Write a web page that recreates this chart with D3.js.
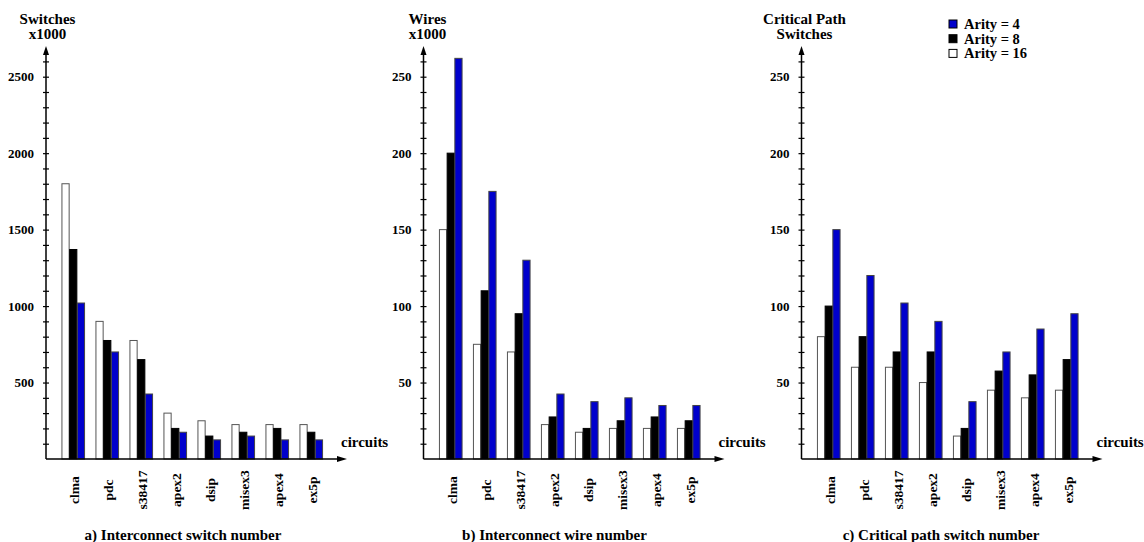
<!DOCTYPE html>
<html>
<head>
<meta charset="utf-8">
<script src="https://cdn.jsdelivr.net/npm/d3@7"></script>
<style>
  body { margin: 0; background: #fff; }
  svg text { font-family: "Liberation Serif", "Times New Roman", "DejaVu Serif", serif !important; font-weight: bold; fill: #000; }
</style>
</head>
<body>
<div id="chart"></div>
<script>
// data
const circuits = ['clma', 'pdc', 's38417', 'apex2', 'dsip', 'misex3', 'apex4', 'ex5p'];
const arities = ['16', '8', '4'];

const switches16 = [1800, 900, 775, 300, 250, 225, 225, 225];
const switches8 = [1370, 775, 650, 200, 150, 175, 200, 175];
const switches4 = [1020, 700, 425, 175, 125, 150, 125, 125];

const wires16 = [150, 75, 70, 22.5, 17.5, 20, 20, 20];
const wires8 = [200, 110, 95, 27.5, 20, 25, 27.5, 25];
const wires4 = [262, 175, 130, 42.5, 37.5, 40, 35, 35];

const crit16 = [80, 60, 60, 50, 15, 45, 40, 45];
const crit8 = [100, 80, 70, 70, 20, 57.5, 55, 65];
const crit4 = [150, 120, 102, 90, 37.5, 70, 85, 95];

const switchTicks = [500, 1000, 1500, 2000, 2500];
const wireTicks = [50, 100, 150, 200, 250];
const critTicks = [50, 100, 150, 200, 250];

const fills = { '16': '#ffffff', '8': '#000000', '4': '#0000cc' };
const strokes = { '16': '#555', '8': '#000', '4': '#444' };

const serif = '"Liberation Serif", "Times New Roman", "DejaVu Serif", serif';
const width = 1144, height = 542;
const baseY = 459;
const topY = 76.7;

const svg = d3.select('#chart').append('svg')
    .attr('width', width)
    .attr('height', height)
    .attr('font-family', serif);

const panels = [
    { x: 46, title: ['Switches', 'x1000'], titleX: 47.5, ticks: switchTicks, minor: 100,
      series: { '16': switches16, '8': switches8, '4': switches4 },
      caption: 'a) Interconnect switch number', capX: 183 },
    { x: 423.5, title: ['Wires', 'x1000'], titleX: 427.5, ticks: wireTicks, minor: 10,
      series: { '16': wires16, '8': wires8, '4': wires4 },
      caption: 'b) Interconnect wire number', capX: 554.5 },
    { x: 801.5, title: ['Critical Path', 'Switches'], titleX: 804.5, ticks: critTicks, minor: 10,
      series: { '16': crit16, '8': crit8, '4': crit4 },
      caption: 'c) Critical path switch number', capX: 941 }
];

function label(sel, size) {
    return sel.style('font-family', serif)
        .style('font-weight', 'bold')
        .style('font-size', size + 'px')
        .attr('fill', '#000');
}

panels.forEach(p => {
    const maxTick = d3.max(p.ticks);
    const y = d3.scaleLinear().domain([0, maxTick]).range([baseY, topY]);

    const x = d3.scaleBand().domain(circuits)
        .range([p.x + 10, p.x + 282])
        .paddingInner(0.32)
        .paddingOuter(0.16);
    const xs = d3.scaleBand().domain(arities).range([0, x.bandwidth()]);

    const g = svg.append('g');

    // bars
    arities.forEach(a => {
        g.selectAll(null)
            .data(p.series[a])
            .enter().append('rect')
            .attr('x', (d, i) => x(circuits[i]) + xs(a) + 0.5)
            .attr('y', d => y(d))
            .attr('width', xs.bandwidth() - 0.5)
            .attr('height', d => baseY - y(d))
            .attr('fill', fills[a])
            .attr('stroke', strokes[a])
            .attr('stroke-width', 1);
    });

    // y axis ticks (cross the axis)
    const tickVals = d3.range(p.minor, maxTick + p.minor * 1.5, p.minor);
    const left = d3.axisLeft(y).tickValues(tickVals).tickSize(3).tickPadding(9)
        .tickFormat(d => p.ticks.includes(d) ? d : '');
    const right = d3.axisRight(y).tickValues(tickVals).tickSize(3).tickFormat('');
    const ga = g.append('g').attr('transform', `translate(${p.x},0)`).call(left);
    const gb = g.append('g').attr('transform', `translate(${p.x},0)`).call(right);
    [ga, gb].forEach(s => {
        s.attr('font-family', null);
        s.select('.domain').remove();
        s.selectAll('line').attr('stroke', '#000').attr('stroke-width', 1.2);
    });
    label(ga.selectAll('text'), 13);

    // y axis line with arrow
    const arrowTop = y(maxTick + p.minor * 2);
    g.append('line')
        .attr('x1', p.x).attr('x2', p.x)
        .attr('y1', baseY).attr('y2', arrowTop + 6)
        .attr('stroke', '#000').attr('stroke-width', 1.5);
    g.append('path')
        .attr('d', `M${p.x},${arrowTop} L${p.x - 3},${arrowTop + 9} L${p.x + 3},${arrowTop + 9} Z`)
        .attr('fill', '#000');

    // x axis line with arrow
    const xEnd = p.x + 301;
    g.append('line')
        .attr('x1', p.x).attr('x2', xEnd - 6)
        .attr('y1', baseY).attr('y2', baseY)
        .attr('stroke', '#000').attr('stroke-width', 1.5);
    g.append('path')
        .attr('d', `M${xEnd},${baseY} L${xEnd - 10},${baseY - 3} L${xEnd - 10},${baseY + 3} Z`)
        .attr('fill', '#000');

    label(g.append('text')
        .attr('x', p.x + 295).attr('y', 447)
        .text('circuits'), 15);

    // category labels
    label(g.selectAll(null)
        .data(circuits)
        .enter().append('text')
        .attr('transform', d => `translate(${x(d) + x.bandwidth() / 2 + 1.5},490) rotate(-90)`)
        .attr('text-anchor', 'middle')
        .attr('dy', '0.35em')
        .text(d => d), 13.5);

    // axis title
    p.title.forEach((t, i) => {
        label(g.append('text')
            .attr('x', p.titleX).attr('y', 24 + i * 14.5)
            .attr('text-anchor', 'middle')
            .text(t), 15);
    });

    label(g.append('text')
        .attr('x', p.capX).attr('y', 539.5)
        .attr('text-anchor', 'middle')
        .text(p.caption), 15);
});

// legend
const legendOrder = ['4', '8', '16'];
const legend = svg.append('g').attr('transform', 'translate(949,24)');
legend.selectAll(null)
    .data(legendOrder)
    .enter().append('rect')
    .attr('x', 0)
    .attr('y', (d, i) => i * 14.7 - 4)
    .attr('width', 8).attr('height', 8)
    .attr('fill', d => fills[d])
    .attr('stroke', '#000').attr('stroke-width', 1);
label(legend.selectAll(null)
    .data(legendOrder)
    .enter().append('text')
    .attr('x', 15)
    .attr('y', (d, i) => i * 14.7)
    .attr('dy', '0.35em')
    .text(d => 'Arity = ' + d), 14.5);
</script>
</body>
</html>
